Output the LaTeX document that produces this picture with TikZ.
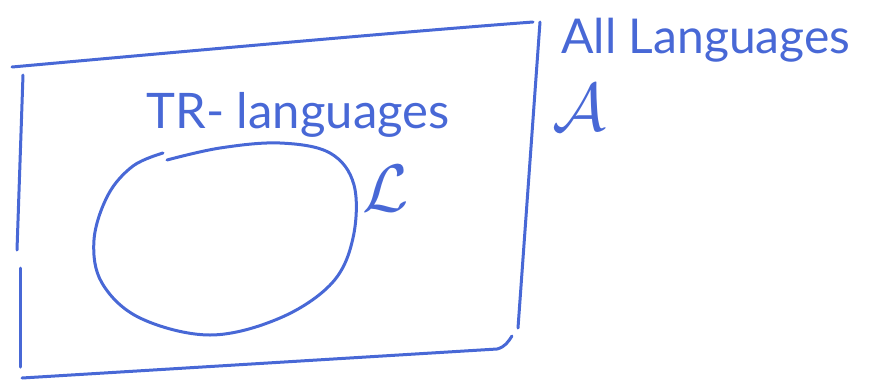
\documentclass[tikz,border=0pt]{standalone}
\usepackage{fontspec}
\setmainfont{Lato}
\definecolor{handblue}{RGB}{72,104,214}
\begin{document}
\begin{tikzpicture}[x=1pt,y=-1pt,
  pen/.style={draw=handblue,line width=3pt,line cap=round,line join=round},
  hand/.style={text=handblue,inner sep=0pt,font=\fontsize{49}{52}\selectfont}]
\useasboundingbox (0,0) rectangle (873,384);
% outer box (all languages)
\coordinate (tl) at (12,67);
\coordinate (tr) at (533,22);
\draw[pen] (tl) .. controls (200,50) and (400,32) .. (tr);
\coordinate (rt) at (540,22);
\coordinate (rb) at (518,328);
\draw[pen] (rt) -- (rb);
\coordinate (l1a) at (23,75);
\coordinate (l1b) at (17,250);
\draw[pen] (l1a) -- (l1b);
\coordinate (l2a) at (20,268);
\coordinate (l2b) at (20,367);
\draw[pen] (l2a) -- (l2b);
\coordinate (bl) at (22,378);
\coordinate (br) at (512,336);
\draw[pen] (bl) -- (497,349) .. controls (505,347) and (508,342) .. (br);
% inner set L
\draw[pen] plot[smooth,tension=0.6] coordinates {(167,160) (220,148) (280,143) (330,153) (354,185) (353,238) (332,283) (280,318) (210,335) (140,318) (102,283) (94,240) (108,195) (133,166) (163,153)};
% labels
\node[hand,anchor=base] (tr-lab) at (298,128) {TR- languages};
\node[hand,anchor=base,font=\fontsize{48}{52}\selectfont] (all-lab) at (706,53) {All Languages};
\node[hand] (A-lab) at (579,108) {\scalebox{2.7}{$\mathcal{A}$}};
\node[hand] (L-lab) at (386,189) {\scalebox{2.7}{$\mathcal{L}$}};
\end{tikzpicture}
\end{document}
